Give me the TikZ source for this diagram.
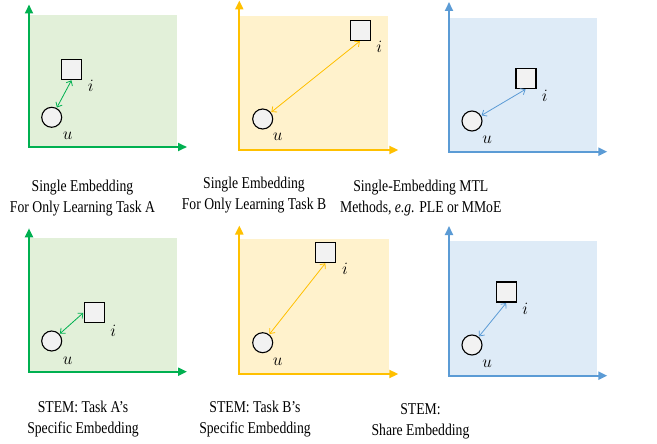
\documentclass[tikz,border=0pt]{standalone}
\usepackage{fontspec}
\usetikzlibrary{arrows.meta}
\setmainfont{Liberation Serif}
\newfontfamily\capfont[FakeStretch=0.83]{Liberation Serif}
\definecolor{gAx}{HTML}{00B050}
\definecolor{gBg}{HTML}{E2F0D9}
\definecolor{yAx}{HTML}{FFC000}
\definecolor{yBg}{HTML}{FFF2CC}
\definecolor{bAx}{HTML}{5B9BD5}
\definecolor{bBg}{HTML}{DEEBF7}
\definecolor{shp}{HTML}{F2F2F2}
\tikzset{
  axisline/.style={line width=2pt, line join=miter, {Triangle[length=9pt,width=8pt]}-{Triangle[length=9pt,width=8pt]}},
  unode/.style={circle, draw=black, line width=1.1pt, fill=shp, minimum size=20pt, inner sep=0pt},
  inode/.style={rectangle, draw=black, line width=1.1pt, fill=shp, minimum size=20pt, inner sep=0pt},
  lbl/.style={inner sep=0pt, font=\fontsize{16}{16}\selectfont},
  link/.style={line width=0.8pt, {Straight Barb[length=4pt,width=7pt]}-{Straight Barb[length=4pt,width=7pt]}, shorten <=0.5pt, shorten >=0.5pt},
  caption/.style={align=center, inner sep=0pt, font=\capfont\fontsize{16.5}{21}\selectfont}
}
\begin{document}
\begin{tikzpicture}[x=1pt,y=-1pt]
\useasboundingbox (0,0) rectangle (657,444);
% backgrounds
\fill[gBg] (29,14.7) rectangle (176.7,146.7);
\fill[yBg] (239.3,15.7) rectangle (387.7,150);
\fill[bBg] (449,18.3) rectangle (596.7,151.7);
\fill[gBg] (29,238.3) rectangle (176.7,371.7);
\fill[yBg] (239.3,239) rectangle (389,374);
\fill[bBg] (449,240.7) rectangle (596.7,375.7);
% axes
\coordinate (o1) at (29,147); \coordinate (ya1) at (29,4.5); \coordinate (xa1) at (187,147);
\coordinate (o2) at (239.3,150); \coordinate (ya2) at (239.3,0.5); \coordinate (xa2) at (398.3,150);
\coordinate (o3) at (449,151.7); \coordinate (ya3) at (449,2); \coordinate (xa3) at (607.3,151.7);
\coordinate (o4) at (29,371.7); \coordinate (ya4) at (29,228.3); \coordinate (xa4) at (187,371.7);
\coordinate (o5) at (239.3,374); \coordinate (ya5) at (239.3,225.5); \coordinate (xa5) at (398.3,374);
\coordinate (o6) at (449,375.7); \coordinate (ya6) at (449,226); \coordinate (xa6) at (607.3,375.7);
\draw[axisline, draw=gAx] (ya1) -- (o1) -- (xa1);
\draw[axisline, draw=yAx] (ya2) -- (o2) -- (xa2);
\draw[axisline, draw=bAx] (ya3) -- (o3) -- (xa3);
\draw[axisline, draw=gAx] (ya4) -- (o4) -- (xa4);
\draw[axisline, draw=yAx] (ya5) -- (o5) -- (xa5);
\draw[axisline, draw=bAx] (ya6) -- (o6) -- (xa6);
% panel 1
\node[inode] (i1) at (71.7,69.3) {};
\node[unode] (u1) at (51.7,117.3) {};
\node[lbl] (li1) at (90.7,86) {$i$};
\node[lbl] (lu1) at (67.7,136) {$u$};
\draw[link, draw=gAx] (u1) -- (i1.south);
% panel 2
\node[inode] (i2) at (360.3,30.3) {};
\node[unode] (u2) at (262.7,119) {};
\node[lbl] (li2) at (379.3,47.3) {$i$};
\node[lbl] (lu2) at (277.7,136.7) {$u$};
\draw[link, draw=yAx] (u2) -- (i2.south);
% panel 3
\node[inode] (i3) at (526,78.5) {};
\node[unode] (u3) at (472,121) {};
\node[lbl] (li3) at (544.7,95.7) {$i$};
\node[lbl] (lu3) at (487.3,139.3) {$u$};
\draw[link, draw=bAx] (u3) -- (i3.south);
% panel 4
\node[inode] (i4) at (94.2,312.5) {};
\node[unode] (u4) at (51.7,341) {};
\node[lbl] (li4) at (113.3,330.7) {$i$};
\node[lbl] (lu4) at (67.7,360.7) {$u$};
\draw[link, draw=gAx] (u4) -- (i4.west);
% panel 5
\node[inode] (i5) at (325.7,252.3) {};
\node[unode] (u5) at (262.7,342.7) {};
\node[lbl] (li5) at (345,269) {$i$};
\node[lbl] (lu5) at (277.7,361.7) {$u$};
\draw[link, draw=yAx] (u5) -- (i5.south);
% panel 6
\node[inode] (i6) at (506.5,292) {};
\node[unode] (u6) at (472,345) {};
\node[lbl] (li6) at (525.3,309) {$i$};
\node[lbl] (lu6) at (487.3,364) {$u$};
\draw[link, draw=bAx] (u6) -- (i6.south);
% captions
\node[caption] (c1) at (82.5,198.3) {Single Embedding\\For Only Learning Task A};
\node[caption] (c2) at (254,195.4) {Single Embedding\\For Only Learning Task B};
\node[caption] (c3) at (420.8,198.3) {Single-Embedding MTL\\Methods, \textit{e.g.} PLE or MMoE};
\node[caption] (c4) at (83,419.3) {STEM: Task A’s\\Specific Embedding};
\node[caption] (c5) at (255,419.3) {STEM: Task B’s\\Specific Embedding};
\node[caption] (c6) at (420.5,421.6) {STEM:\\Share Embedding};
\end{tikzpicture}
\end{document}
